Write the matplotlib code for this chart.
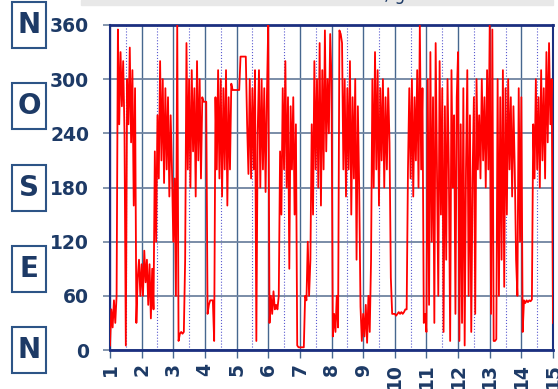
import matplotlib
matplotlib.use("Agg")
import matplotlib.pyplot as plt
import matplotlib.transforms as mtransforms
from matplotlib.patches import Rectangle

# hourly wind direction (degrees), day 1.00 .. 15.00
direction_by_day = [
    # day 1
    [5, 45, 25, 55, 30, 60, 355, 250, 330, 270, 320, 240,
     5, 300, 250, 335, 230, 310, 160, 290, 30, 80, 100, 60],
    # day 2
    [95, 60, 110, 75, 100, 50, 95, 35, 90, 45, 220, 120,
     260, 190, 320, 210, 300, 185, 290, 200, 280, 170, 260, 200],
    # day 3
    [120, 190, 60, 360, 10, 18, 20, 18, 20, 100, 340, 200,
     300, 180, 310, 220, 290, 170, 320, 210, 300, 190, 280, 275],
    # day 4
    [275, 275, 40, 50, 55, 55, 55, 10, 280, 200, 310, 190,
     300, 170, 290, 200, 310, 160, 280, 200, 295, 288, 288, 288],
    # day 5
    [288, 288, 288, 325, 325, 325, 325, 325, 250, 195, 300, 190,
     290, 200, 310, 10, 240, 310, 180, 300, 200, 290, 175, 280],
    # day 6
    [360, 30, 60, 40, 65, 45, 50, 45, 60, 220, 150, 290,
     200, 320, 180, 280, 90, 270, 200, 280, 150, 250, 5, 3],
    # day 7
    [3, 3, 3, 3, 60, 55, 120, 60, 100, 250, 150, 320,
     200, 300, 180, 340, 160, 310, 200, 354, 220, 300, 240, 350],
    # day 8
    [300, 15, 40, 20, 60, 25, 354, 350, 340, 200, 300, 170,
     290, 200, 320, 150, 280, 190, 300, 100, 270, 180, 48, 10],
    # day 9
    [40, 15, 50, 8, 60, 20, 100, 300, 180, 330, 200, 310,
     160, 290, 210, 300, 180, 280, 200, 290, 230, 80, 40, 40],
    # day 10
    [40, 38, 40, 42, 40, 42, 40, 42, 45, 45, 200, 290,
     190, 300, 170, 280, 210, 310, 180, 360, 200, 290, 30, 40],
    # day 11
    [20, 300, 50, 330, 120, 280, 30, 340, 200, 60, 320, 150,
     290, 20, 270, 100, 300, 200, 10, 310, 180, 260, 40, 280],
    # day 12
    [330, 10, 250, 30, 290, 5, 200, 310, 60, 260, 20, 190,
     280, 40, 300, 200, 260, 190, 300, 210, 280, 180, 310, 200],
    # day 13
    [360, 40, 355, 10, 10, 12, 300, 60, 280, 100, 310, 70,
     290, 150, 300, 200, 280, 170, 270, 200, 100, 60, 290, 120],
    # day 14
    [280, 20, 55, 52, 55, 53, 55, 54, 56, 250, 190, 300,
     200, 280, 180, 310, 210, 290, 190, 330, 230, 340, 250, 300],
]
last_value = 30

direction = [v for day in direction_by_day for v in day] + [last_value]
days = [1 + i / 24 for i in range(len(direction))]

y_ticks = [0, 60, 120, 180, 240, 300, 360]
x_ticks = list(range(1, 16))
compass = [("N", 360), ("O", 270), ("S", 180), ("E", 90), ("N", 0)]

navy = "#1b2f80"
label_col = "#1d3a66"

fig = plt.figure(figsize=(5.58, 3.89), dpi=100)
ax = fig.add_axes([110 / 558, 1 - 350 / 389, 443 / 558, 325 / 389])

ax.plot(days, direction, color="#ff0000", lw=1.3, zorder=3)

ax.set_xlim(1, 15)
ax.set_ylim(0, 360)
ax.set_xticks(x_ticks)
ax.set_xticks([x + 0.5 for x in x_ticks[:-1]], minor=True)
ax.set_yticks(y_ticks)
ax.set_axisbelow(True)

ax.grid(which="major", axis="x", color="#47678f", lw=1.0)
ax.grid(which="minor", axis="x", color="#5a5ad0", lw=0.8, linestyle=":")
ax.grid(which="major", axis="y", color="#6f84a0", lw=1.3)

for side in ["top", "bottom"]:
    ax.spines[side].set_color(navy)
    ax.spines[side].set_linewidth(2.0)
for side in ["left", "right"]:
    ax.spines[side].set_color(navy)
    ax.spines[side].set_linewidth(1.5)

ax.tick_params(axis="y", which="major", length=5, width=1.2, color="#6f84a0",
               pad=10, labelsize=13.5, labelcolor=label_col)
ax.tick_params(axis="x", which="major", length=5.5, width=1.0, color="#47678f",
               pad=4, labelsize=13.5, labelcolor=label_col)
ax.tick_params(axis="x", which="minor", length=0)
ax.set_xticklabels([str(x) for x in x_ticks], rotation=90, fontweight="bold")
ax.set_yticklabels([str(y) for y in y_ticks], fontweight="bold")

# boxed compass letters on the left, aligned with the degree scale
trans = mtransforms.blended_transform_factory(fig.transFigure, ax.transData)
box_w = 34 / 558
box_h = 46 / 389
for letter, deg in compass:
    ax.text(29 / 558, deg, letter, transform=trans, ha="center", va="center",
            fontsize=20, fontweight="bold", color=label_col, clip_on=False)
    y_fig = fig.transFigure.inverted().transform(ax.transData.transform((1, deg)))[1]
    fig.patches.append(Rectangle((12 / 558, y_fig - box_h / 2), box_w, box_h,
                                 transform=fig.transFigure, fill=False,
                                 ec="#2d5486", lw=1.5))

# top strip with cut-off title
fig.patches.append(Rectangle((81 / 558, 1 - 5 / 389), 472 / 558, 5 / 389,
                             transform=fig.transFigure, color="#e8e8e8",
                             zorder=0))
fig.text(395 / 558, 1.012, ", g", ha="center", va="center", fontsize=12,
         color=label_col)

fig.savefig("out.png", dpi=100)
